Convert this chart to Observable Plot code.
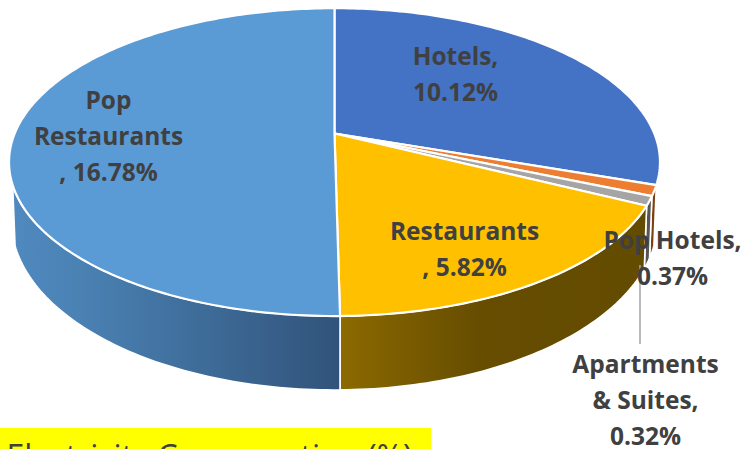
<!DOCTYPE html>
<html>
<head>
<meta charset="utf-8">
<style>
html,body{margin:0;padding:0;background:#fff;overflow:hidden}
svg{display:block}
</style>
<script src="https://cdn.jsdelivr.net/npm/d3@7"></script>
<script src="https://cdn.jsdelivr.net/npm/@observablehq/plot@0.6"></script>
</head>
<body>
<script>
// ---- data ----
const sliceNames = ["Hotels", "Pop Hotels", "Apartments & Suites", "Restaurants", "Pop Restaurants"];
const sliceValues = [10.12, 0.37, 0.32, 5.82, 16.78];
const labelTexts = ["Hotels,\n10.12%", "Pop Hotels,\n0.37%", "Apartments\n& Suites,\n0.32%", "Restaurants\n, 5.82%", "Pop\nRestaurants\n, 16.78%"];
const topColors = ["#4472c4", "#ed7d31", "#a5a5a5", "#ffc000", "#5b9bd5"];
const captionText = "Electricity Consumption (%)";

// ---- layout ----
const W = 744, H = 449;
const persp = 0.186;
const topDisc = {cx: 334, cy: 133, rx: 319.8, ry: 148.6};
const baseDisc = {cx: 334, cy: 188.7, rx: 317.4, ry: 163.4};
const wallFills = [null, "#7f4010", "#555555", "url(#wallGold)", "url(#wallBlue)"];
const labelSpots = [[455, 71], [672, 255], [645, 397], [464, 246], [108, 133]];

const rimPoint = (disc, deg) => {
  const a = deg * Math.PI / 180, u = Math.sin(a), v = Math.cos(a), d = 1 + persp * v;
  return {x: disc.cx + disc.rx * u / d, y: disc.cy - disc.ry * v / d};
};
const arcDegs = (a0, a1) => {
  const n = Math.max(2, Math.ceil(Math.abs(a1 - a0)));
  return d3.range(n + 1).map(i => a0 + (a1 - a0) * i / n);
};

const total = d3.sum(sliceValues);
const cum = d3.cumsum(sliceValues);
const ends = Array.from(cum, c => c / total * 360);
const starts = [0, ...ends.slice(0, -1)];

// wall is visible from the end of the first slice round to its mirror angle
const wallFrom = ends[0], wallTo = 360 - ends[0];

const topPaths = sliceNames.map((name, i) => {
  const rim = arcDegs(starts[i], ends[i]).map(d => rimPoint(topDisc, d));
  const apex = {x: topDisc.cx, y: topDisc.cy};
  return [apex, ...rim, apex];
});
const wallPaths = sliceNames.map((name, i) => {
  const a0 = Math.max(starts[i], wallFrom), a1 = Math.min(ends[i], wallTo);
  if (a1 <= a0) return null;
  const degs = arcDegs(a0, a1);
  const upper = degs.map(d => rimPoint(topDisc, d));
  const lower = degs.slice().reverse().map(d => rimPoint(baseDisc, d));
  return [...upper, ...lower, upper[0]];
});

const gradientDefs = () => {
  const svg = d3.create("svg:g");
  const defs = svg.append("defs");
  const add = (id, stops) => {
    const g = defs.append("linearGradient").attr("id", id).attr("x1", 0).attr("x2", 1).attr("y1", 0).attr("y2", 0);
    stops.forEach(([o, c]) => g.append("stop").attr("offset", o).attr("stop-color", c));
  };
  add("wallBlue", [[0, "#5089bf"], [0.2, "#4a82b4"], [1, "#31537a"]]);
  add("wallGold", [[0, "#8c6a00"], [0.45, "#664d00"], [1, "#634b00"]]);
  return svg.node();
};

const labelRows = labelTexts.map((t, i) => ({text: t, x: labelSpots[i][0], y: labelSpots[i][1]}));

const chart = Plot.plot({
  width: W, height: H,
  margin: 0,
  x: {domain: [0, W], range: [0, W], axis: null},
  y: {domain: [0, H], range: [0, H], axis: null},
  marks: [
    gradientDefs,
    ...wallPaths.map((p, i) => p && Plot.line(p, {
      x: "x", y: "y", fill: wallFills[i], stroke: "#fff", strokeWidth: 1.6, curve: "linear", strokeLinejoin: "round"
    })),
    ...topPaths.map((p, i) => Plot.line(p, {
      x: "x", y: "y", fill: topColors[i], stroke: "#fff", strokeWidth: 2.2, curve: "linear", strokeLinejoin: "round"
    })),
    Plot.ruleX([639.5], {y1: 265, y2: 344, stroke: "#a5a5a5", strokeWidth: 1.5}),
    Plot.text(labelRows, {
      x: "x", y: "y", text: "text", fill: "#404040", fontFamily: "Open Sans", fontWeight: 700,
      fontSize: 24.5, lineHeight: 1.46, lineAnchor: "middle", textAnchor: "middle"
    }),
    Plot.rect([{x1: 0, x2: 431, y1: 428, y2: H}], {x1: "x1", x2: "x2", y1: "y1", y2: "y2", fill: "#ffff00"}),
    Plot.text([captionText], {
      x: 6, y: 467, text: d => d, fill: "#404040", fontFamily: "Open Sans", fontSize: 32, textAnchor: "start", lineAnchor: "bottom"
    })
  ]
});
document.body.append(chart);
</script>
</body>
</html>
